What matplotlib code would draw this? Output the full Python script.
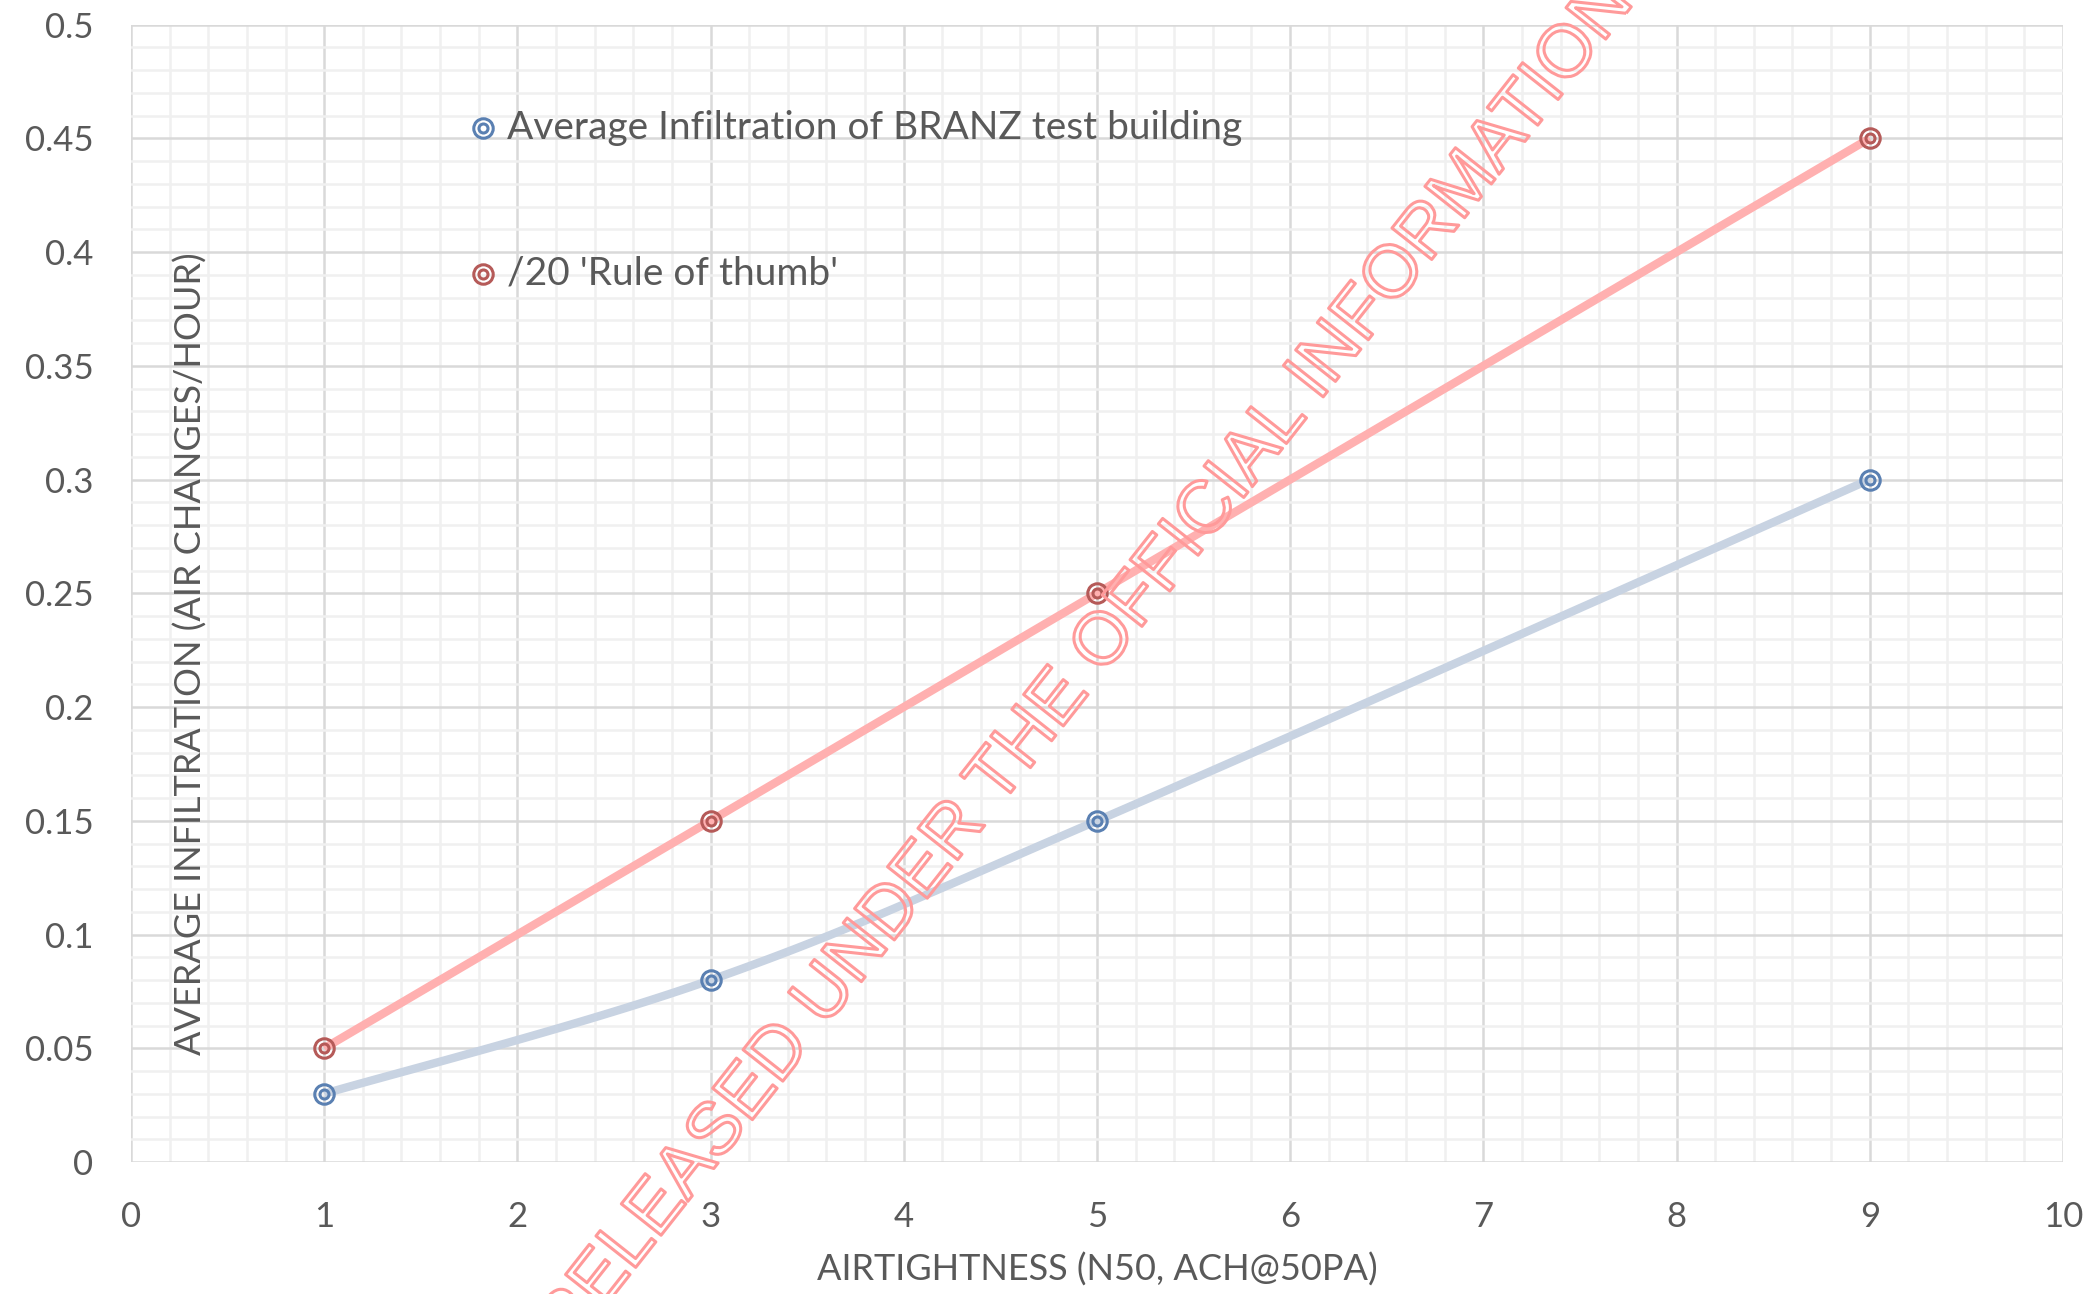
import numpy as np
import matplotlib.pyplot as plt
from matplotlib.ticker import MultipleLocator
import matplotlib.patheffects as pe

# airtightness (n50) vs average infiltration
n50 = [1, 3, 5, 9]
branz = [0.03, 0.08, 0.15, 0.30]
thumb = [0.05, 0.15, 0.25, 0.45]
labels = ["Average Infiltration of BRANZ test building", "/20 'Rule of thumb'"]

txt = '#595959'


def smooth(x, y, n=40):
    # bezier smoothing through the points, like a spreadsheet "smoothed line"
    p = np.column_stack([x, y]).astype(float)
    p = np.vstack([p[0], p, p[-1]])
    out = []
    for i in range(1, len(p) - 2):
        p0, p1, p2, p3 = p[i - 1], p[i], p[i + 1], p[i + 2]
        c1 = p1 + (p2 - p0) / 6
        c2 = p2 - (p3 - p1) / 6
        t = np.linspace(0, 1, n)[:, None]
        seg = (1 - t)**3 * p1 + 3 * (1 - t)**2 * t * c1 + 3 * (1 - t) * t**2 * c2 + t**3 * p2
        out.append(seg if i == 1 else seg[1:])
    out = np.vstack(out)
    return out[:, 0], out[:, 1]


fig = plt.figure(figsize=(20.92, 12.94), dpi=100)
ax = fig.add_axes([0.0626, 0.102, 0.9235, 0.879])

bx, by = smooth(n50, branz)
tx, ty = smooth(n50, thumb)
ax.plot(bx, by, color='#C8D3E2', lw=6, solid_capstyle='butt', zorder=3)
ax.plot(tx, ty, color='#FFB0B0', lw=6, solid_capstyle='butt', zorder=3)

for y, ec in [(branz, '#5A80B2'), (thumb, '#B55A58')]:
    ax.plot(n50, y, 'o', ms=14, mfc='none', mec=ec, mew=2.2, zorder=4)
    ax.plot(n50, y, 'o', ms=6.5, mfc='none', mec=ec, mew=2.2, zorder=4)

ax.set_xlim(0, 10)
ax.set_ylim(0, 0.5)
ax.xaxis.set_major_locator(MultipleLocator(1))
ax.xaxis.set_minor_locator(MultipleLocator(0.2))
ax.yaxis.set_major_locator(MultipleLocator(0.05))
ax.yaxis.set_minor_locator(MultipleLocator(0.01))
ax.grid(which='major', color='#D9D9D9', lw=1.8)
ax.grid(which='minor', color='#F0F0F0', lw=1.8)
ax.set_axisbelow(True)
for s in ax.spines.values():
    s.set_visible(False)
ax.tick_params(which='both', length=0)
ax.tick_params(axis='x', pad=28, labelsize=25, labelcolor=txt)
ax.tick_params(axis='y', pad=27, labelsize=25, labelcolor=txt)
ax.set_yticks(np.arange(0, 0.51, 0.05))
ax.set_yticklabels(['0'] + ['%g' % v for v in np.arange(0.05, 0.51, 0.05)], family='Lato')
ax.set_xticks(range(11))
ax.set_xticklabels([str(i) for i in range(11)], family='Lato')

ax.set_xlabel('AIRTIGHTNESS (N50, ACH@50PA)', fontsize=26, color=txt,
              family='Lato', labelpad=14)
fig.text(0.0913, 0.4946, 'AVERAGE INFILTRATION (AIR CHANGES/HOUR)', rotation=90,
         ha='center', va='center', fontsize=26, color=txt, family='Lato')

# legend entries
for k, (lab, ec) in enumerate(zip(labels, ['#5A80B2', '#B55A58'])):
    yy = 0.9014 - k * 0.1128
    fig.text(0.2423, yy, lab, fontsize=28, color=txt, family='Lato', va='center')
    fig.lines.append(plt.Line2D([0.2309], [yy], transform=fig.transFigure, marker='o', ms=14,
                                mfc='none', mec=ec, mew=2.2))
    fig.lines.append(plt.Line2D([0.2309], [yy], transform=fig.transFigure, marker='o', ms=6.5,
                                mfc='none', mec=ec, mew=2.2))

# watermark
fig.text(0.2718, -0.0451, 'RELEASED UNDER THE OFFICIAL INFORMATION ACT', rotation=51.7,
         rotation_mode='anchor', ha='left', va='baseline', fontsize=53, family='Liberation Sans',
         color='none', zorder=10,
         path_effects=[pe.withStroke(linewidth=2.2, foreground='#FF9A9A')])

fig.savefig('out.png', dpi=100)
